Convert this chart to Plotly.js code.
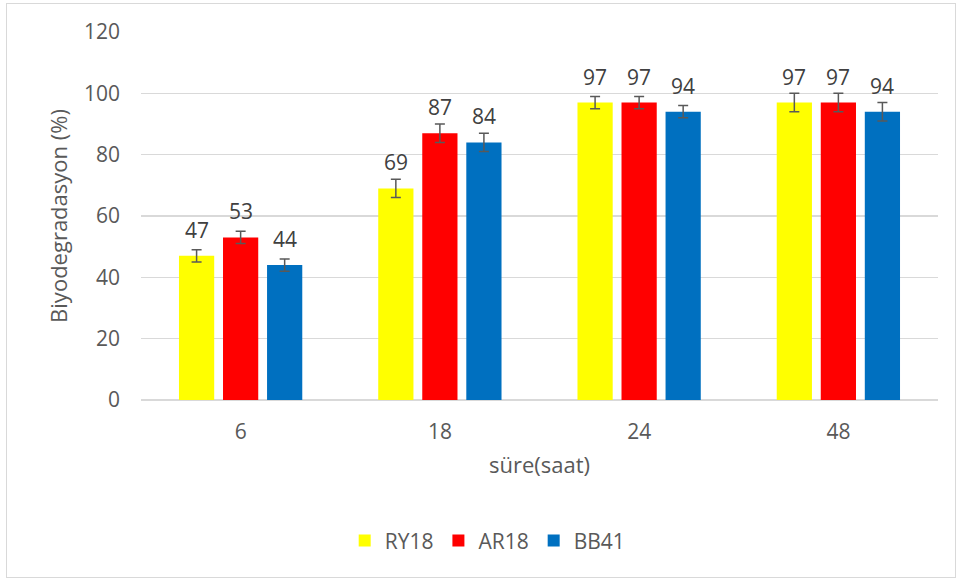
<!DOCTYPE html>
<html>
<head>
<meta charset="utf-8">
<script src="https://cdn.plot.ly/plotly-3.0.1.min.js"></script>
<style>
html,body{margin:0;padding:0;background:#fff;}
#wrap{position:relative;width:959px;height:580px;}
#chart{width:959px;height:580px;}
#frame{position:absolute;left:6px;top:3px;width:948px;height:573px;border:1px solid #d9d9d9;pointer-events:none;}
</style>
</head>
<body>
<div id="wrap"><div id="chart"></div><div id="frame"></div></div>
<script>
const categories = ["6", "18", "24", "48"];
const seriesNames = ["RY18", "AR18", "BB41"];
const RY18 = [47, 69, 97, 97];
const AR18 = [53, 87, 97, 97];
const BB41 = [44, 84, 94, 94];
const errRY18 = [2, 3, 2, 3];
const errAR18 = [2, 3, 2, 3];
const errBB41 = [2, 3, 2, 3];
const yTicks = [0, 20, 40, 60, 80, 100, 120];

const colors = ["#FFFF00", "#FF0000", "#0070C0"];
const values = [RY18, AR18, BB41];
const errs = [errRY18, errAR18, errBB41];
const font = "Open Sans, Noto Sans, sans-serif";

const traces = values.map((v, i) => ({
  type: "bar",
  name: seriesNames[i],
  x: categories,
  y: v,
  marker: {color: colors[i]},
  error_y: {type: "data", array: errs[i], visible: true, color: "#595959", thickness: 1.5, width: 5},
  hoverinfo: "x+y"
}));

const shifts = [-44, 0, 44];
const annotations = [];
values.forEach((v, i) => {
  v.forEach((val, j) => {
    annotations.push({
      x: j, y: val, xref: "x", yref: "y",
      text: String(val), showarrow: false,
      xshift: shifts[i], yshift: 10, yanchor: "bottom",
      font: {family: font, size: 21, color: "#404040"}
    });
  });
});

const layout = {
  width: 959, height: 580,
  margin: {l: 141, r: 21, t: 32, b: 180},
  paper_bgcolor: "rgba(0,0,0,0)",
  plot_bgcolor: "#fff",
  barmode: "group",
  bargap: 0.337,
  bargroupgap: 0.2,
  showlegend: true,
  legend: {orientation: "h", x: 0.435, xanchor: "center", y: -0.383, yanchor: "middle",
           font: {family: font, size: 21, color: "#595959"}, itemwidth: 30, tracegroupgap: 0},
  xaxis: {
    type: "category",
    categoryorder: "array", categoryarray: categories,
    range: [-0.5, categories.length - 0.5],
    tickfont: {family: font, size: 21, color: "#595959"},
    ticks: "", showgrid: false, showline: false, ticklabelstandoff: 17,
    automargin: false,
    title: {text: "süre(saat)", font: {family: font, size: 22, color: "#595959"}, standoff: 13}
  },
  yaxis: {
    range: [0, 120], tickvals: yTicks, ticktext: yTicks.map(String),
    tickfont: {family: font, size: 21, color: "#595959"},
    gridcolor: "#d9d9d9", gridwidth: 1.3, zeroline: true, zerolinecolor: "#d9d9d9", zerolinewidth: 1.3,
    showline: false, ticks: "", ticklen: 0, ticklabelstandoff: 20,
    automargin: false,
    title: {text: "Biyodegradasyon (%)", font: {family: font, size: 22, color: "#595959"}, standoff: 10}
  },
  annotations: annotations,
  font: {family: font}
};

Plotly.newPlot("chart", traces, layout, {displayModeBar: false, staticPlot: true});
</script>
</body>
</html>
